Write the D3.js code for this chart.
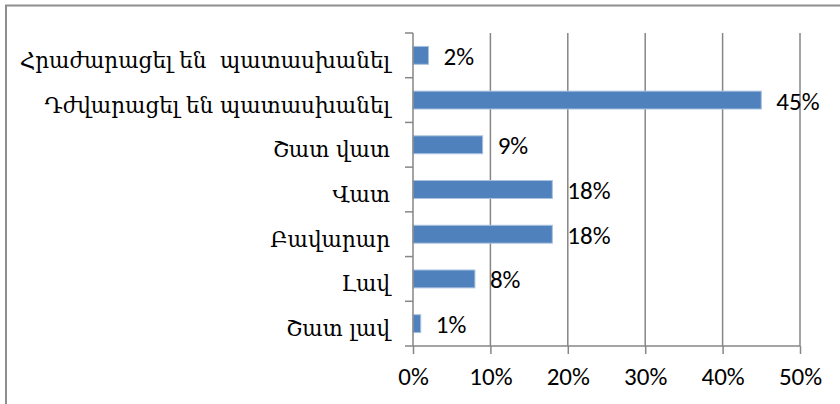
<!DOCTYPE html>
<html>
<head>
<meta charset="utf-8">
<script src="https://cdn.jsdelivr.net/npm/d3@7"></script>
<style>
  body { margin: 0; background: #fff; }
  svg { display: block; }
</style>
</head>
<body>
<div id="chart"></div>
<script>
"use strict";
const categories = [
    "Հրաժարացել են  պատասխանել",
    "Դժվարացել են պատասխանել",
    "Շատ վատ",
    "Վատ",
    "Բավարար",
    "Լավ",
    "Շատ լավ"
];
const values = [2, 45, 9, 18, 18, 8, 1];
const xTicks = [0, 10, 20, 30, 40, 50];

const svgWidth = 840;
const svgHeight = 404;
const plotLeft = 413;
const plotRight = 800;
const plotTop = 33;
const plotBottom = 346;
const gridColor = "#868686";
const numFont = "Carlito, Calibri, Lato, sans-serif";

const svg = d3.select("#chart")
    .append("svg")
    .attr("width", svgWidth)
    .attr("height", svgHeight);

// chart area border
svg.append("rect")
    .attr("x", 6)
    .attr("y", 5.5)
    .attr("width", 900)
    .attr("height", 500)
    .attr("fill", "#fff")
    .attr("stroke", "#8e8e8e")
    .attr("stroke-width", 2);

const xScale = d3.scaleLinear()
    .domain([0, 50])
    .range([plotLeft, plotRight]);
const yScale = d3.scaleBand()
    .domain(categories)
    .range([plotTop, plotBottom])
    .paddingInner(0.6)
    .paddingOuter(0.3);

// vertical gridlines
svg.append("g")
    .selectAll("line")
    .data(xTicks.slice(1))
    .enter()
    .append("line")
    .attr("x1", d => xScale(d))
    .attr("x2", d => xScale(d))
    .attr("y1", plotTop)
    .attr("y2", plotBottom)
    .attr("stroke", gridColor)
    .attr("stroke-width", 1.5);

// bars
svg.append("g")
    .selectAll("rect")
    .data(values)
    .enter()
    .append("rect")
    .attr("x", xScale(0))
    .attr("y", (d, i) => yScale(categories[i]))
    .attr("width", d => xScale(d) - xScale(0))
    .attr("height", yScale.bandwidth())
    .attr("fill", "#4f81bd")
    .attr("stroke", "#a9c1df")
    .attr("stroke-width", 1);

// value labels
svg.append("g")
    .selectAll("text")
    .data(values)
    .enter()
    .append("text")
    .attr("x", d => xScale(d) + 15)
    .attr("y", (d, i) => yScale(categories[i]) + yScale.bandwidth() / 2)
    .attr("dy", "0.38em")
    .style("font-family", numFont)
    .style("font-size", "25px")
    .attr("fill", "#000")
    .text(d => `${d}%`);

// x axis
const xAxis = d3.axisBottom(xScale)
    .tickValues(xTicks)
    .tickSize(8)
    .tickPadding(13)
    .tickFormat(d => `${d}%`);
const gx = svg.append("g")
    .attr("transform", `translate(0, ${plotBottom})`)
    .call(xAxis);
gx.select(".domain")
    .attr("d", `M${plotLeft},0H${plotRight}`)
    .attr("stroke", gridColor)
    .attr("stroke-width", 1.5);
gx.selectAll(".tick line")
    .attr("stroke", gridColor)
    .attr("stroke-width", 1.5);
gx.selectAll(".tick text")
    .style("font-family", numFont)
    .style("font-size", "25px")
    .attr("fill", "#000");

// y axis: labels centred on bands, ticks at band edges
const yAxis = d3.axisLeft(yScale)
    .tickSize(0)
    .tickPadding(23);
const gy = svg.append("g")
    .attr("transform", `translate(${plotLeft}, 0)`)
    .call(yAxis);
gy.select(".domain").remove();
gy.selectAll(".tick text")
    .attr("dy", "0.58em")
    .style("white-space", "pre")
    .style("font-family", "'DejaVu Serif', serif")
    .style("font-size", "21.5px")
    .attr("fill", "#000");
gy.selectAll(".edge")
    .data(d3.range(categories.length + 1))
    .enter()
    .append("line")
    .attr("class", "edge")
    .attr("x1", -8)
    .attr("x2", 0)
    .attr("y1", i => yScale.range()[0] + i * yScale.step())
    .attr("y2", i => yScale.range()[0] + i * yScale.step())
    .attr("stroke", gridColor)
    .attr("stroke-width", 1.5);
gy.append("line")
    .attr("x1", 0)
    .attr("x2", 0)
    .attr("y1", plotTop)
    .attr("y2", plotBottom)
    .attr("stroke", gridColor)
    .attr("stroke-width", 1.5);
</script>
</body>
</html>
